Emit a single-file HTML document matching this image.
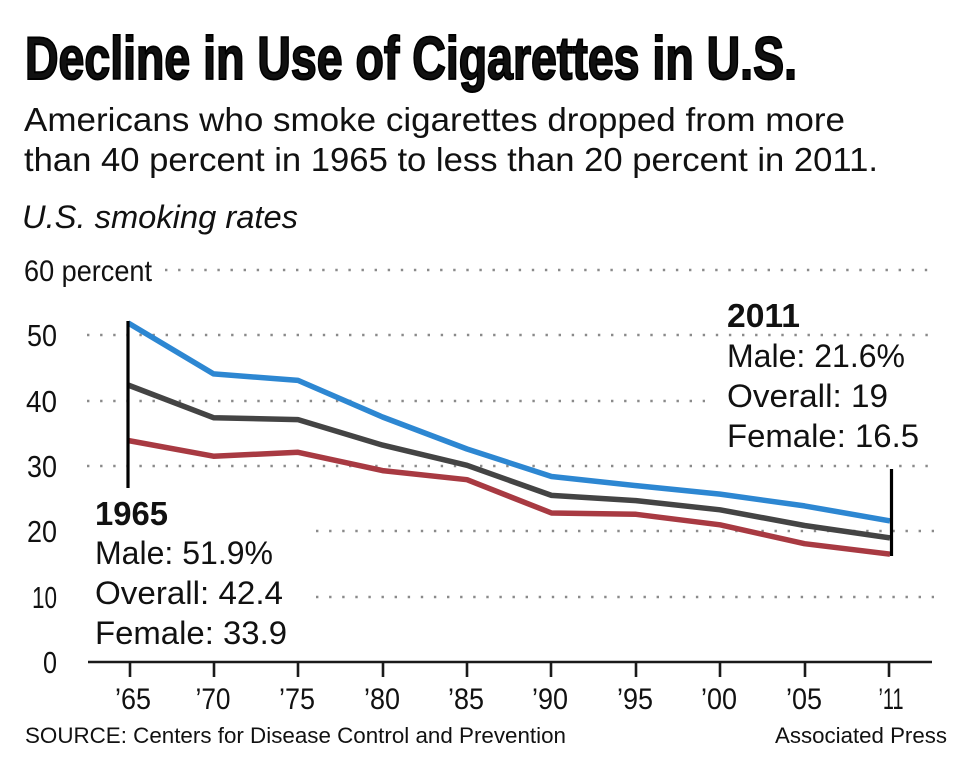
<!DOCTYPE html>
<html>
<head>
<meta charset="utf-8">
<style>
html,body{margin:0;padding:0;background:#fff;}
svg{display:block;}
text{font-family:"Liberation Sans",sans-serif;fill:#111;}
</style>
</head>
<body>
<svg width="968" height="768" viewBox="0 0 968 768" xmlns="http://www.w3.org/2000/svg">
<rect width="968" height="768" fill="#fff"/>

<!-- Title -->
<text x="25" y="79" font-size="60" font-weight="bold" textLength="772" lengthAdjust="spacingAndGlyphs" stroke="#000" stroke-width="2" fill="#000">Decline in Use of Cigarettes in U.S.</text>

<!-- Subtitle -->
<text x="24" y="131" font-size="33" textLength="821" lengthAdjust="spacingAndGlyphs">Americans who smoke cigarettes dropped from more</text>
<text x="24" y="171" font-size="33" textLength="854" lengthAdjust="spacingAndGlyphs">than 40 percent in 1965 to less than 20 percent in 2011.</text>

<text x="22" y="228" font-size="32" font-style="italic" textLength="276" lengthAdjust="spacingAndGlyphs">U.S. smoking rates</text>

<!-- Gridlines -->
<g stroke="#8a8a8a" stroke-width="2.4" stroke-dasharray="2.4 10.7" fill="none">
  <line x1="165" y1="270" x2="934" y2="270"/>
  <line x1="87" y1="335" x2="934" y2="335"/>
  <line x1="87" y1="401" x2="705" y2="401"/>
  <line x1="87" y1="466" x2="934" y2="466"/>
  <line x1="316" y1="531" x2="934" y2="531"/>
  <line x1="316" y1="597" x2="934" y2="597"/>
</g>

<!-- Y labels -->
<text x="24" y="281" font-size="30" textLength="128" lengthAdjust="spacingAndGlyphs">60 percent</text>
<g font-size="31" text-anchor="end">
  <text x="57" y="346" textLength="30" lengthAdjust="spacingAndGlyphs">50</text>
  <text x="57" y="412" textLength="31" lengthAdjust="spacingAndGlyphs">40</text>
  <text x="57" y="477" textLength="30" lengthAdjust="spacingAndGlyphs">30</text>
  <text x="57" y="542" textLength="30" lengthAdjust="spacingAndGlyphs">20</text>
  <text x="57" y="608" textLength="25" lengthAdjust="spacingAndGlyphs">10</text>
  <text x="57" y="673" textLength="14" lengthAdjust="spacingAndGlyphs">0</text>
</g>

<!-- Series -->
<g fill="none" stroke-width="5.5" stroke-linejoin="round" stroke-linecap="butt">
  <polyline stroke="#a83a42" points="128,440.5 213.5,456.2 298,452.3 382.5,470.6 467,479.7 551.5,513 636,514.3 720,524.8 804.5,543.7 890,554.2"/>
  <polyline stroke="#444444" points="128,385 213.5,417.7 298,419.6 382.5,445.1 467,465.3 551.5,495.4 636,500.6 720,509.8 804.5,525.5 890,537.9"/>
  <polyline stroke="#2d87d2" points="128,322.9 213.5,373.9 298,380.4 382.5,417 467,449 551.5,476.5 636,485.6 720,494.1 804.5,505.9 890,520.9"/>
</g>

<!-- Markers -->
<line x1="128" y1="321" x2="128" y2="488" stroke="#000" stroke-width="3.2"/>
<line x1="891.5" y1="469" x2="891.5" y2="556" stroke="#000" stroke-width="3.2"/>

<!-- Axis -->
<line x1="88" y1="662" x2="932" y2="662" stroke="#1a1a1a" stroke-width="2.6"/>
<g stroke="#1a1a1a" stroke-width="2.6">
  <line x1="130" y1="662" x2="130" y2="677"/>
  <line x1="214" y1="662" x2="214" y2="677"/>
  <line x1="298" y1="662" x2="298" y2="677"/>
  <line x1="383" y1="662" x2="383" y2="677"/>
  <line x1="467" y1="662" x2="467" y2="677"/>
  <line x1="551" y1="662" x2="551" y2="677"/>
  <line x1="636" y1="662" x2="636" y2="677"/>
  <line x1="720" y1="662" x2="720" y2="677"/>
  <line x1="805" y1="662" x2="805" y2="677"/>
  <line x1="889" y1="662" x2="889" y2="677"/>
</g>
<g font-size="30" text-anchor="middle">
  <text x="133" y="709" textLength="36" lengthAdjust="spacingAndGlyphs">’65</text>
  <text x="213" y="709" textLength="35" lengthAdjust="spacingAndGlyphs">’70</text>
  <text x="297" y="709" textLength="36" lengthAdjust="spacingAndGlyphs">’75</text>
  <text x="382" y="709" textLength="36" lengthAdjust="spacingAndGlyphs">’80</text>
  <text x="466" y="709" textLength="36" lengthAdjust="spacingAndGlyphs">’85</text>
  <text x="550" y="709" textLength="36" lengthAdjust="spacingAndGlyphs">’90</text>
  <text x="635" y="709" textLength="36" lengthAdjust="spacingAndGlyphs">’95</text>
  <text x="719" y="709" textLength="36" lengthAdjust="spacingAndGlyphs">’00</text>
  <text x="804" y="709" textLength="36" lengthAdjust="spacingAndGlyphs">’05</text>
  <text x="891" y="709" textLength="25" lengthAdjust="spacingAndGlyphs">’11</text>
</g>

<!-- 1965 annotation -->
<text x="95" y="525" font-size="33" font-weight="bold" textLength="73" lengthAdjust="spacingAndGlyphs" fill="#000">1965</text>
<g font-size="32">
  <text x="95" y="564" textLength="178" lengthAdjust="spacingAndGlyphs">Male: 51.9%</text>
  <text x="95" y="604" textLength="188" lengthAdjust="spacingAndGlyphs">Overall: 42.4</text>
  <text x="95" y="644" textLength="192" lengthAdjust="spacingAndGlyphs">Female: 33.9</text>
</g>

<!-- 2011 annotation -->
<text x="727" y="327" font-size="33" font-weight="bold" textLength="73" lengthAdjust="spacingAndGlyphs" fill="#000">2011</text>
<g font-size="32">
  <text x="727" y="367" textLength="178" lengthAdjust="spacingAndGlyphs">Male: 21.6%</text>
  <text x="727" y="407" textLength="161" lengthAdjust="spacingAndGlyphs">Overall: 19</text>
  <text x="727" y="447" textLength="192" lengthAdjust="spacingAndGlyphs">Female: 16.5</text>
</g>

<!-- Footer -->
<text x="25" y="743" font-size="22" textLength="541" lengthAdjust="spacingAndGlyphs">SOURCE: Centers for Disease Control and Prevention</text>
<text x="775" y="743" font-size="22" textLength="172" lengthAdjust="spacingAndGlyphs">Associated Press</text>
</svg>
</body>
</html>
